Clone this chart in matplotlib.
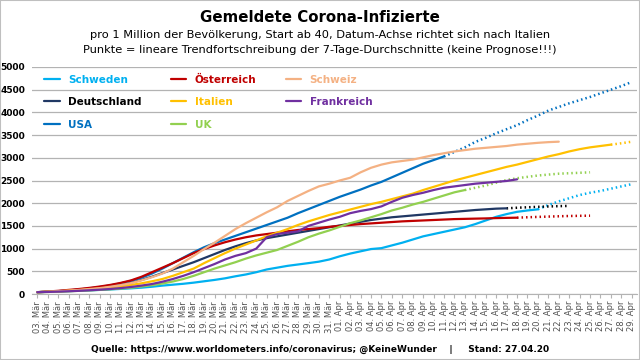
import matplotlib.pyplot as plt
from matplotlib.patches import Rectangle

dates = [f"{d:02d}. Mär" for d in range(3, 32)] + [f"{d:02d}. Apr" for d in range(1, 30)]

schweden = [40, 48, 56, 64, 72, 80, 90, 100, 112, 125, 140, 160, 185, 205, 225, 250, 280, 310,
            345, 390, 430, 480, 540, 580, 620, 650, 680, 712, 760, 830, 890, 940, 990, 1010, 1070,
            1130, 1200, 1270, 1320, 1370, 1420, 1470, 1540, 1620, 1700, 1760, 1810, 1840, 1865]
schweden_trend = [1865, 1960, 2040, 2110, 2180, 2230, 2270, 2320, 2370, 2420]

oesterreich = [40, 55, 70, 90, 110, 135, 165, 200, 245, 300, 380, 480, 580, 680, 790, 900, 990,
               1070, 1140, 1200, 1250, 1290, 1320, 1350, 1380, 1410, 1430, 1450, 1480, 1500, 1520,
               1540, 1555, 1570, 1585, 1600, 1610, 1620, 1630, 1640, 1650, 1655, 1660, 1665, 1672,
               1677, 1681]
oesterreich_trend = [1681, 1690, 1698, 1705, 1712, 1718, 1722, 1725]

schweiz = [40, 50, 62, 75, 90, 110, 130, 160, 195, 240, 300, 370, 450, 560, 700, 840, 990, 1130,
           1280, 1430, 1560, 1680, 1800, 1910, 2050, 2160, 2270, 2370, 2430, 2500, 2560, 2680, 2780,
           2850, 2900, 2930, 2960, 3010, 3060, 3100, 3140, 3170, 3200, 3220, 3240, 3260, 3290, 3310,
           3330, 3345, 3355]

deutschland = [40, 50, 62, 75, 92, 112, 135, 165, 200, 250, 310, 380, 460, 540, 620, 700, 790, 880,
               970, 1050, 1120, 1180, 1230, 1270, 1310, 1350, 1390, 1430, 1470, 1510, 1550, 1590,
               1630, 1660, 1690, 1710, 1730, 1750, 1770, 1790, 1810, 1830, 1850, 1865, 1880, 1887]
deutschland_trend = [1887, 1900, 1910, 1920, 1928, 1935, 1940]

italien = [40, 48, 58, 70, 85, 100, 120, 145, 170, 200, 235, 280, 330, 400, 480, 560, 680, 790,
           900, 1000, 1090, 1180, 1270, 1350, 1430, 1520, 1600, 1670, 1740, 1800, 1860, 1920, 1980,
           2030, 2090, 2150, 2210, 2290, 2360, 2430, 2500, 2560, 2620, 2680, 2740, 2800, 2850, 2910,
           2970, 3030, 3080, 3140, 3190, 3230, 3260, 3290]
italien_trend = [3290, 3320, 3355]

frankreich = [40, 45, 52, 60, 70, 82, 95, 110, 130, 155, 185, 220, 270, 330, 400, 480, 570, 660,
              760, 840, 900, 1000, 1250, 1320, 1350, 1380, 1500, 1570, 1640, 1700, 1780, 1830, 1870,
              1930, 2030, 2120, 2180, 2230, 2290, 2340, 2370, 2400, 2430, 2450, 2470, 2490, 2526]

usa = [40, 50, 62, 78, 100, 125, 155, 190, 235, 290, 360, 450, 560, 680, 800, 920, 1030, 1120,
       1200, 1280, 1360, 1440, 1520, 1600, 1680, 1780, 1870, 1960, 2050, 2140, 2220, 2300, 2390,
       2470, 2570, 2670, 2770, 2870, 2950, 3030]
usa_trend = [3030, 3130, 3230, 3350, 3440, 3540, 3630, 3720, 3830, 3930, 4040, 4120, 4200, 4270,
             4340, 4420, 4500, 4580, 4670]

uk = [40, 45, 52, 60, 70, 80, 92, 105, 120, 140, 165, 195, 230, 275, 330, 400, 480, 560, 630, 700,
      780, 850, 910, 970, 1060, 1150, 1250, 1330, 1400, 1480, 1560, 1620, 1690, 1760, 1840, 1900,
      1970, 2030, 2100, 2170, 2240, 2290]
uk_trend = [2290, 2340, 2390, 2450, 2510, 2550, 2580, 2610, 2630, 2650, 2660, 2670, 2680]

series = [
    ('Schweden', schweden, schweden_trend, '#00B0F0', '#00B0F0'),
    ('Deutschland', deutschland, deutschland_trend, '#203864', '#000000'),
    ('USA', usa, usa_trend, '#0070C0', '#0070C0'),
    ('Österreich', oesterreich, oesterreich_trend, '#C00000', '#C00000'),
    ('Italien', italien, italien_trend, '#FFC000', '#FFC000'),
    ('UK', uk, uk_trend, '#92D050', '#92D050'),
    ('Schweiz', schweiz, None, '#F4B183', '#F4B183'),
    ('Frankreich', frankreich, None, '#7030A0', '#7030A0'),
]

fig = plt.figure(figsize=(6.4, 3.6), dpi=100)
ax = fig.add_axes([32 / 640, 1 - 294 / 360, 605 / 640, 227 / 360])

handles = []
for name, vals, trend, color, tcolor in series:
    line, = ax.plot(range(len(vals)), vals, color=color, lw=1.6, solid_capstyle='round', zorder=3)
    handles.append(line)
    if trend:
        start = len(vals) - 1
        ax.plot(range(start, start + len(trend)), trend, color=tcolor, lw=1.8,
                linestyle=(0, (0.6, 1.2)), dash_capstyle='butt', zorder=2)

ax.set_xlim(-0.5, len(dates) - 0.5)
ax.set_ylim(0, 5000)
ax.set_yticks(range(0, 5001, 500))
ax.yaxis.grid(True, color='#b3b3b3', lw=0.9)
ax.set_axisbelow(True)
for s in ['top', 'right', 'left']:
    ax.spines[s].set_visible(False)
ax.spines['bottom'].set_color('#b3b3b3')
ax.tick_params(axis='y', length=0, pad=5, labelsize=6.5)
for lab in ax.get_yticklabels():
    lab.set_fontweight('bold')
ax.set_xticks(range(len(dates)))
ax.set_xticklabels(dates, rotation=90, fontsize=6, color='#505050')
ax.tick_params(axis='x', length=3, color='#b3b3b3', pad=2)

leg = ax.legend(handles, [s[0] for s in series], ncol=3, frameon=False,
                loc='upper left', bbox_to_anchor=(0.005, 1.008),
                prop={'weight': 'bold', 'size': 7.5}, handlelength=1.45,
                handletextpad=0.85, columnspacing=2.8, labelspacing=1.2)
for txt, s in zip(leg.get_texts(), series):
    txt.set_color('#000000' if s[0] == 'Deutschland' else s[3])

fig.text(0.5, 1 - 17 / 360, 'Gemeldete Corona-Infizierte', ha='center', va='center',
         fontsize=10.8, fontweight='bold')
fig.text(0.5, 1 - 35 / 360,
         'pro 1 Million der Bevölkerung, Start ab 40, Datum-Achse richtet sich nach Italien',
         ha='center', va='center', fontsize=8.2)
fig.text(0.5, 1 - 50 / 360,
         'Punkte = lineare Trendfortschreibung der 7-Tage-Durchschnitte (keine Prognose!!!)',
         ha='center', va='center', fontsize=8.2)
fig.text(0.5, 1 - 349 / 360,
         'Quelle: https://www.worldometers.info/coronavirus; @KeineWunder    |     Stand: 27.04.20',
         ha='center', va='center', fontsize=6.5, fontweight='bold')

fig.patches.append(Rectangle((0, 0), 1, 1, transform=fig.transFigure, fill=False,
                             edgecolor='#bfbfbf', lw=1.5))

fig.savefig('out.png', dpi=100)
